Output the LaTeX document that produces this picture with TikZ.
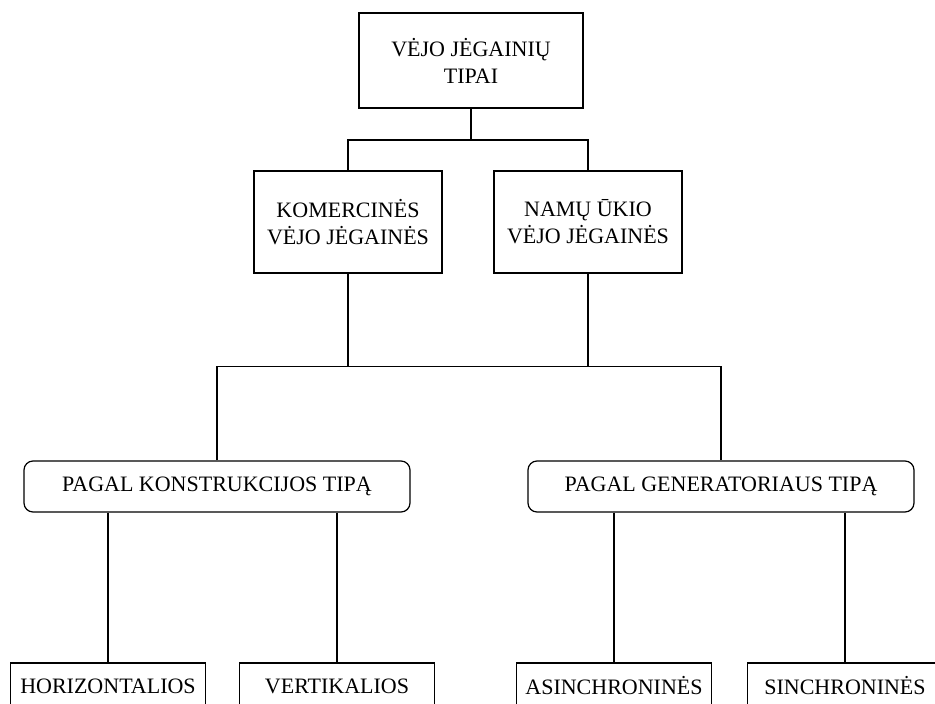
\documentclass[tikz,border=0pt]{standalone}
\usepackage{fontspec}
\setmainfont{Liberation Serif}
\begin{document}
\begin{tikzpicture}[x=1pt,y=-1pt,
  every node/.style={font=\fontsize{22}{27}\selectfont, text=black, inner sep=0pt},
  sqbox/.style={draw=black, line width=1.2pt, align=center},
  rdbox/.style={draw=black, line width=1.2pt, rounded corners=9pt, minimum width=386pt, minimum height=51pt},
  leaf/.style={draw=black, line width=1.2pt, minimum width=195pt, minimum height=46pt},
  link/.style={draw=black, line width=1.2pt}]
  \useasboundingbox (0,0) rectangle (935,704);

  % root
  \node[sqbox, minimum width=224pt, minimum height=95pt] (root) at (471,60.5) {VĖJO JĖGAINIŲ\\TIPAI};

  % second level
  \node[sqbox, minimum width=188pt, minimum height=102pt] (kom) at (348,222) {KOMERCINĖS\\VĖJO JĖGAINĖS};
  \node[sqbox, minimum width=188pt, minimum height=102pt] (nam) at (588,222) {NAMŲ ŪKIO\\VĖJO JĖGAINĖS};

  % classification criteria
  \node[rdbox] (konstr) at (217,486.5) {PAGAL KONSTRUKCIJOS TIPĄ};
  \node[rdbox] (gen) at (721,486.5) {PAGAL GENERATORIAUS TIPĄ};

  % leaves
  \node[leaf] (horiz) at (108,686) {HORIZONTALIOS};
  \node[leaf] (vert) at (337,686) {VERTIKALIOS};
  \node[leaf] (asinc) at (614,686) {ASINCHRONINĖS};
  \node[leaf] (sinc) at (845,686) {SINCHRONINĖS};

  % junction levels
  \coordinate (top bus) at (0,140);
  \coordinate (mid bus) at (0,366.5);

  % root to second level
  \draw[link] (root.south) -- (root.south |- top bus);
  \draw[link] (kom.north) -- (kom.north |- top bus) -- (nam.north |- top bus) -- (nam.north);

  % second level to criteria
  \draw[link] (kom.south) -- (kom.south |- mid bus);
  \draw[link] (nam.south) -- (nam.south |- mid bus);
  \draw[link] (konstr.north) -- (konstr.north |- mid bus) -- (gen.north |- mid bus) -- (gen.north);

  % criteria to leaves
  \draw[link] (konstr.south -| horiz.north) -- (horiz.north);
  \draw[link] (konstr.south -| vert.north) -- (vert.north);
  \draw[link] (gen.south -| asinc.north) -- (asinc.north);
  \draw[link] (gen.south -| sinc.north) -- (sinc.north);
\end{tikzpicture}
\end{document}
